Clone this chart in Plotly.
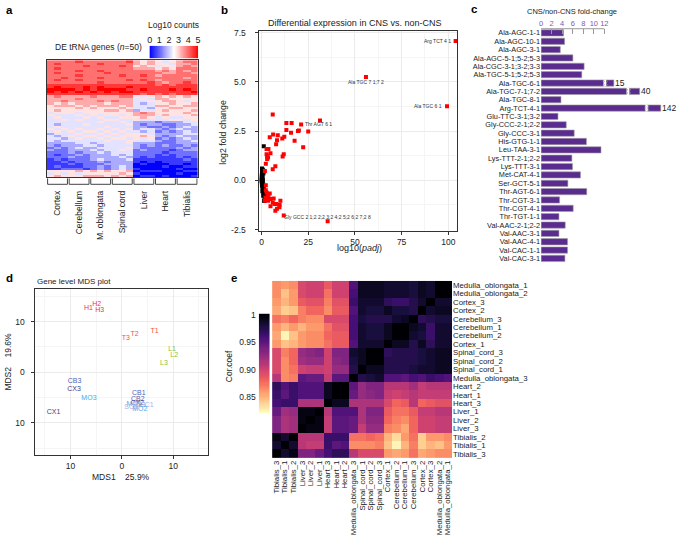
import numpy as np
import plotly.graph_objects as go
from plotly.colors import sequential

W, H = 677, 543
def X(px): return px / W
def Y(py): return 1 - py / H

FONT = "Liberation Sans, Arial, Helvetica, sans-serif"
TXT = "#222222"

# ---------------- panel a : DE tRNA heatmap (digit code 0-9 -> log10 counts 0-5)
tissues_a = ["Cortex", "Cerebellum", "M. oblongata", "Spinal cord", "Liver", "Heart", "Tibialis"]
heat_a_rows = [
    "777 787 777 778 656 545 677", "787 777 787 777 656 554 667", "777 778 777 787 565 455 676",
    "787 777 777 777 666 565 777", "777 787 787 777 777 676 767", "787 777 778 777 777 766 776",
    "777 787 777 787 787 677 777", "778 777 787 777 777 777 767", "787 787 777 778 787 677 777",
    "777 777 787 777 778 767 787", "888 888 888 888 888 787 888", "898 889 898 889 888 888 888",
    "999 989 899 998 898 889 898", "989 898 989 899 888 888 889", "888 888 888 888 878 787 888",
    "676 666 766 677 545 656 565", "666 676 666 666 454 665 555", "667 666 676 766 445 566 545",
    "656 566 665 666 434 556 556", "566 656 566 656 444 665 566", "555 565 655 565 443 556 655",
    "565 555 556 656 344 565 556", "455 545 555 555 676 555 565", "544 454 545 545 666 565 556",
    "454 445 454 455 565 454 455", "445 454 445 544 544 445 545", "444 444 454 454 333 233 344",
    "434 445 444 445 323 322 334", "454 444 445 444 332 232 343", "545 454 454 545 344 323 433",
    "454 545 545 454 434 232 343", "344 454 454 545 554 333 344", "434 545 545 455 565 323 433",
    "443 454 454 554 545 232 343", "434 444 445 445 444 322 334", "333 344 344 445 333 222 333",
    "323 334 434 444 323 232 232", "232 343 344 445 322 222 323", "322 333 434 454 232 221 233",
    "222 323 343 444 222 212 222", "212 232 333 434 222 121 222", "222 322 333 343 212 111 212",
    "121 222 343 334 111 111 121", "112 122 232 333 101 011 111", "111 212 223 333 010 001 101",
    "121 112 232 343 000 010 011", "112 221 232 343 100 000 100", "555 565 656 556 011 100 011",
    "454 545 555 565 100 000 100", "565 556 665 656 011 010 001",
]
heat_a = [[int(c) * 5 / 9 for c in r.replace(" ", "")] for r in heat_a_rows]
cb_a_ticks = [0, 1, 2, 3, 4, 5]

# ---------------- panel b : volcano-like scatter
ns_x = [0.6, 0.9, 0.3, 0.5, 0.2, 0.4, 0.1, 0.3, 0.05, 0.2, 0.0, 0.1, 0.0, 0.15, 0.3, 0.2, 0.5, 0.4,
        0.7, 0.6, 0.9, 0.8, 1.1, 1.0, 1.3, 1.2, 1.5, 0.9, 1.6, 1.4, 1.8, 1.2, 0.7, 0.5, 0.9, 1.2,
        0.35, 0.6, 1.0, 1.2, 0.45, 0.25]
ns_y = [0.55, 0.5, 0.45, 0.4, 0.35, 0.3, 0.25, 0.2, 0.15, 0.1, 0.05, 0.0, -0.05, -0.1, -0.15, -0.2,
        -0.25, -0.3, -0.35, -0.4, -0.45, -0.5, -0.55, -0.6, -0.65, -0.7, -0.75, -0.78, -0.85, -1.05,
        -1.0, 1.73, 0.0, -0.05, -0.2, -0.4, 0.05, 0.15, 0.35, 0.45, -0.55, 0.6]
de_x = [103.9, 55.9, 99.3, 6.0, 31.3, 21.2, 13.3, 16.1, 13.3, 20.0, 19.5, 25.0, 15.8, 12.2, 11.1,
        6.2, 8.7, 4.4, 8.3, 17.7, 7.8, 22.3, 2.7, 3.7, 4.8, 11.9, 11.3, 2.7, 3.0, 3.5, 3.0, 2.3,
        7.4, 6.0, 1.8, 2.3, 2.3, 2.7, 3.4, 4.4, 2.1, 3.7, 2.7, 4.8, 1.8, 3.5, 6.5, 6.0, 10.1, 9.7,
        4.8, 8.3, 7.4, 7.8, 6.9, 11.9, 35.4, 9.6]
de_y = [7.07, 5.24, 3.76, 3.34, 3.04, 2.84, 2.91, 2.91, 2.56, 2.53, 2.5, 2.48, 2.41, 2.21, 2.13,
        2.33, 2.29, 2.19, 2.04, 2.01, 1.83, 1.68, 1.59, 1.59, 1.38, 1.33, 1.21, 1.33, 1.23, 1.16,
        1.08, 0.84, 0.71, 0.56, 0.48, -0.25, -0.5, -0.62, -0.7, -0.67, -0.87, -0.87, -1.0, -0.95,
        -1.04, -1.04, -0.92, -1.12, -1.04, -1.24, -1.32, -1.44, -1.54, -1.2, -1.2, -1.78, -2.07,
        -1.37]
de_names = ["Arg TCT 4 1", "Ala TGC 7 1;7 2", "Ala TGC 6 1", "Thr AGT 6 1",
            "Gly GCC 2 1;2 2;2 3;2 4;2 5;2 6;2 7;2 8"]
de_name_idx = [0, 1, 2, 5, 56]

# ---------------- panel c : fold-change bars
genes_c = ["Ala-AGC-1-1", "Ala-AGC-10-1", "Ala-AGC-3-1", "Ala-AGC-5-1;5-2;5-3", "Ala-CGC-3-1;3-2;3-3",
           "Ala-TGC-5-1;5-2;5-3", "Ala-TGC-6-1", "Ala-TGC-7-1;7-2", "Ala-TGC-8-1", "Arg-TCT-4-1",
           "Glu-TTC-3-1;3-2", "Gly-CCC-2-1;2-2", "Gly-CCC-3-1", "His-GTG-1-1", "Leu-TAA-3-1",
           "Lys-TTT-2-1;2-2", "Lys-TTT-3-1", "Met-CAT-4-1", "Ser-GCT-5-1", "Thr-AGT-6-1",
           "Thr-CGT-3-1", "Thr-CGT-4-1", "Thr-TGT-1-1", "Val-AAC-2-1;2-2", "Val-AAC-3-1",
           "Val-AAC-4-1", "Val-CAC-1-1", "Val-CAC-3-1"]
fold_c = [4.27, 4.46, 3.64, 6.03, 8.16, 7.72, 15, 40, 3.77, 142, 3.2, 4.77, 6.28, 8.6, 11.36,
          5.84, 5.96, 7.47, 5.08, 8.66, 3.51, 6.09, 3.39, 4.58, 3.39, 5.02, 5.02, 4.52]
# broken bars: value -> (axis-break position, drawn length on the compressed axis)
broken_c = {15: (11.8, 13.8), 40: (16.2, 18.7), 142: (19.7, 22.7)}
ticks_c = [0, 2, 4, 6, 8, 10, 12]

# ---------------- panel d : MDS
mds_labels = ["H1", "H2", "H3", "T1", "T2", "T3", "L1", "L2", "L3", "CB3", "CX3", "MO3", "CX1",
              "CB1", "CB2", "CX2", "MO1", "SC3", "SC1", "SC2", "MO2"]
mds1 = [-6.5, -4.9, -4.3, 6.4, 2.5, 0.8, 9.8, 10.2, 8.2, -9.2, -9.3, -6.4, -13.3,
        3.3, 3.1, 3.0, 2.4, 3.3, 4.9, 1.8, 3.5]
mds2 = [12.7, 13.5, 12.3, 8.1, 7.6, 6.8, 4.5, 3.4, 1.75, -1.8, -3.45, -5.1, -7.9,
        -4.2, -5.3, -6.1, -6.4, -6.6, -6.5, -7.0, -7.3]
mds_colors = {"H": "#e0394f", "T": "#f2553a", "L": "#88c23e", "CB": "#5561b0",
              "CX": "#3c408e", "MO": "#52a6e6", "SC": "#aab4e6"}

# ---------------- panel e : correlation heatmap
rows_e = ["Medulla_oblongata_1", "Medulla_oblongata_2", "Cortex_3", "Cortex_2", "Cerebellum_3",
          "Cerebellum_1", "Cerebellum_2", "Cortex_1", "Spinal_cord_3", "Spinal_cord_2",
          "Spinal_cord_1", "Medulla_oblongata_3", "Heart_2", "Heart_1", "Heart_3", "Liver_1",
          "Liver_2", "Liver_3", "Tibialis_2", "Tibialis_1", "Tibialis_3"]
cols_e = ["Tibialis_3", "Tibialis_1", "Tibialis_2", "Liver_3", "Liver_2", "Liver_1", "Heart_3",
          "Heart_1", "Heart_2", "Medulla_oblongata_3", "Spinal_cord_1", "Spinal_cord_2",
          "Spinal_cord_3", "Cortex_1", "Cerebellum_2", "Cerebellum_1", "Cerebellum_3", "Cortex_2",
          "Cortex_3", "Medulla_oblongata_2", "Medulla_oblongata_1"]
cor_e = [
    [.865, .86, .865, .895, .90, .90, .885, .90, .90, .955, .99, .99, .99, .985, .985, .985, .98, .99, .985, 1, 1],
    [.865, .845, .86, .895, .90, .90, .875, .90, .90, .96, .99, .99, .99, .985, .985, .985, .98, .99, .985, 1, 1],
    [.86, .85, .86, .885, .89, .89, .87, .89, .89, .965, .985, .985, .985, .97, .965, .965, .975, .985, 1, .985, .985],
    [.855, .84, .845, .87, .88, .88, .865, .885, .885, .955, .985, .98, .98, .99, .98, .98, .975, 1, .985, .99, .99],
    [.875, .87, .88, .87, .865, .865, .895, .895, .895, .96, .98, .975, .975, .975, .985, .99, 1, .97, .975, .98, .98],
    [.86, .85, .86, .85, .86, .86, .875, .89, .89, .96, .985, .98, .98, .99, 1, 1, .99, .985, .965, .985, .985],
    [.855, .825, .845, .86, .865, .865, .88, .885, .885, .96, .985, .98, .98, .99, 1, 1, .985, .98, .965, .985, .985],
    [.86, .845, .85, .86, .865, .865, .875, .885, .885, .955, .985, .985, .985, 1, .99, .99, .975, .99, .97, .985, .985],
    [.895, .87, .88, .925, .93, .935, .90, .935, .935, .985, .99, 1, 1, .97, .975, .975, .975, .98, .985, .99, .99],
    [.895, .865, .88, .92, .925, .925, .90, .93, .935, .98, .99, 1, 1, .975, .975, .975, .975, .98, .985, .99, .99],
    [.895, .865, .875, .90, .905, .905, .90, .925, .925, .975, 1, .99, .99, .975, .975, .975, .98, .985, .985, .99, .99],
    [.91, .865, .87, .95, .945, .945, .905, .95, .95, 1, .975, .98, .985, .955, .955, .95, .96, .955, .965, .96, .955],
    [.97, .955, .965, .955, .955, .955, .99, 1, 1, .95, .925, .935, .935, .91, .91, .91, .92, .905, .91, .91, .91],
    [.965, .95, .965, .955, .955, .955, .99, 1, 1, .945, .925, .93, .935, .905, .90, .905, .91, .905, .905, .905, .905],
    [.96, .965, .965, .915, .915, .915, 1, .99, .99, .915, .915, .915, .915, .895, .88, .885, .91, .88, .885, .89, .89],
    [.945, .92, .925, .995, .995, 1, .91, .955, .955, .955, .915, .935, .935, .885, .875, .875, .885, .905, .905, .91, .91],
    [.935, .915, .92, .995, 1, .995, .905, .95, .95, .945, .915, .93, .93, .88, .87, .865, .88, .90, .90, .905, .905],
    [.935, .915, .92, 1, .995, .995, .905, .95, .95, .945, .905, .925, .925, .87, .865, .855, .88, .90, .90, .905, .905],
    [.995, .985, 1, .91, .91, .91, .965, .965, .965, .875, .875, .88, .875, .85, .835, .86, .875, .84, .86, .86, .865],
    [.985, 1, .985, .91, .905, .905, .965, .95, .955, .865, .865, .865, .87, .845, .825, .85, .87, .84, .85, .845, .86],
    [1, .985, .995, .935, .935, .945, .96, .97, .97, .91, .895, .895, .895, .86, .855, .86, .875, .855, .86, .865, .865],
]
cb_e_ticks = [0.85, 0.90, 0.95, 1.0]
cb_e_text = ["0.85", "0.90", "0.95", "1"]

bwr = [[0, "#0000ff"], [0.5, "#ffffff"], [1, "#ff0000"]]
mag = sequential.Magma[::-1]
magma_r = [[i / (len(mag) - 1), c] for i, c in enumerate(mag)]

fig = go.Figure()

# a
fig.add_trace(go.Heatmap(z=heat_a, x=list(range(21)), y=list(range(50)), colorscale=bwr,
                         zmin=0, zmax=5, showscale=False, xaxis="x", yaxis="y", hoverinfo="skip"))
grad_a = np.linspace(0, 5, 101)
fig.add_trace(go.Heatmap(z=[grad_a], x=grad_a, y=[0], colorscale=bwr, zmin=0, zmax=5,
                         showscale=False, xaxis="x2", yaxis="y2", hoverinfo="skip"))
# b
fig.add_trace(go.Scatter(x=ns_x, y=ns_y, mode="markers", xaxis="x3", yaxis="y3",
                         marker=dict(symbol="square", size=4, color="#000000", line=dict(width=0))))
fig.add_trace(go.Scatter(x=de_x, y=de_y, mode="markers", xaxis="x3", yaxis="y3",
                         marker=dict(symbol="square", size=4, color="#ff0000", line=dict(width=0))))
# c
drawn_c = [broken_c[v][1] if v in broken_c else v for v in fold_c]
fig.add_trace(go.Bar(x=drawn_c, y=list(range(len(genes_c))), orientation="h", xaxis="x4", yaxis="y4",
                     marker=dict(color="#5b2c8f", line=dict(color="#a0a0a0", width=0.6))))
bk_idx = [i for i, v in enumerate(fold_c) if v in broken_c]
# d
col_d = [mds_colors[l.rstrip("0123456789")] for l in mds_labels]
fig.add_trace(go.Scatter(x=mds1, y=mds2, mode="text", text=mds_labels, xaxis="x5", yaxis="y5",
                         textfont=dict(size=7, color=col_d, family=FONT)))
# e
fig.add_trace(go.Heatmap(z=cor_e, x=list(range(21)), y=list(range(21)), colorscale=magma_r,
                         zmin=0.822, zmax=1.0, showscale=False, xaxis="x6", yaxis="y6", hoverinfo="skip"))
grad_e = np.linspace(0.822, 1.002, 91)
fig.add_trace(go.Heatmap(z=[[v] for v in grad_e], x=[0], y=grad_e, colorscale=magma_r,
                         zmin=0.822, zmax=1.0, showscale=False, xaxis="x7", yaxis="y7", hoverinfo="skip"))

shapes = []
# a: group brackets
for k in range(7):
    x0, x1 = 3 * k - 0.5 + 0.12, 3 * k + 2.5 - 0.12
    shapes.append(dict(type="path", xref="x", yref="paper",
                       path=f"M {x0},{Y(177)} L {x0},{Y(183)} L {x1},{Y(183)} L {x1},{Y(177)}",
                       line=dict(color="#444", width=1)))
# c: axis line and breaks
shapes.append(dict(type="line", xref="x4", yref="y4 domain", x0=0, x1=12, y0=1, y1=1,
                   line=dict(color="#999", width=1)))
for i in bk_idx:
    b = broken_c[fold_c[i]][0]
    shapes.append(dict(type="rect", xref="x4", yref="y4", x0=b, x1=b + 0.55, y0=i - 0.42, y1=i + 0.42,
                       fillcolor="white", line=dict(width=0), layer="above"))
    for e in (b, b + 0.55):
        shapes.append(dict(type="path", xref="x4", yref="y4", layer="above",
                           path=f"M {e},{i-0.38} L {e+0.18},{i-0.19} L {e},{i} L {e+0.18},{i+0.19} L {e},{i+0.38}",
                           line=dict(color="#999", width=0.8)))

ann = []
def A(text, px, py, size=8.5, xanchor="center", angle=0, bold=False, color=TXT, **kw):
    ann.append(dict(text=f"<b>{text}</b>" if bold else text, x=X(px), y=Y(py), xref="paper", yref="paper",
                    showarrow=False, xanchor=xanchor, yanchor="middle", textangle=angle,
                    font=dict(size=size, color=color, family=FONT), **kw))

for t, px, py in [("a", 2, 6), ("b", 218, 6), ("c", 470, 5), ("d", 2, 278), ("e", 228, 278)]:
    A(t, px, py, size=11.5, xanchor="left", bold=True, color="#000")
A("Log10 counts", 172.8, 21.7, size=8.5)
A("DE tRNA genes (<i>n</i>=50)", 97.5, 44, size=8.5)
A("Differential expression in CNS vs. non-CNS", 355, 19, size=9)
A("log10(<i>padj</i>)", 360, 248, size=9)
A("log2 fold change", 222, 130, size=8.8, angle=-90)
A("CNS/non-CNS fold-change", 573.5, 7.5, size=7.5)
A("Gene level MDS plot", 33, 281.5, size=8, xanchor="left")
A("MDS1\u00a0\u00a0\u00a0\u00a025.9%", 120, 480, size=8.5)
A("MDS2\u00a0\u00a0\u00a0\u00a019.6%", 6, 363, size=8.5, angle=-90)
A("Cor.coef", 228, 368, size=8.5, angle=-90)
# b point labels
offs = [dict(xanchor="right", xshift=-3), dict(xanchor="center", yshift=-5),
        dict(xanchor="right", xshift=-3), dict(xanchor="left", xshift=2), dict(xanchor="center", yshift=4)]
for name, i, o in zip(de_names, de_name_idx, offs):
    ann.append(dict(text=name, x=de_x[i], y=de_y[i], xref="x3", yref="y3", showarrow=False,
                    yanchor="middle", font=dict(size=5, color="#333", family=FONT), **o))
# c broken-bar values
for i in bk_idx:
    ann.append(dict(text=str(fold_c[i]), x=drawn_c[i], y=i, xref="x4", yref="y4", showarrow=False,
                    xanchor="left", yanchor="middle", xshift=0, borderpad=0,
                    font=dict(size=8.5, color=TXT, family=FONT)))

grid = "#ebebeb"
minor_grid = "#f5f5f5"
box = dict(showline=True, mirror=True, linecolor="#333", linewidth=1)
tickf = dict(size=8.5, color=TXT, family=FONT)

fig.update_layout(
    width=W, height=H, margin=dict(l=0, r=0, t=0, b=0),
    paper_bgcolor="white", plot_bgcolor="white", showlegend=False,
    font=dict(family=FONT, color=TXT), bargap=0.25,
    shapes=shapes, annotations=ann,
    xaxis=dict(domain=[X(45), X(197)], range=[-0.5, 20.5], anchor="y", tickvals=[1, 4, 7, 10, 13, 16, 19],
               ticktext=tissues_a, tickangle=-90, ticks="outside", ticklen=9, tickcolor="rgba(0,0,0,0)",
               tickfont=tickf, showgrid=False, zeroline=False, **box),
    yaxis=dict(domain=[Y(176), Y(57)], range=[49.5, -0.5], anchor="x", showticklabels=False, ticks="",
               showgrid=False, zeroline=False, **box),
    xaxis2=dict(domain=[X(148.3), X(197.3)], range=[-0.025, 5.025], anchor="y2", side="top",
                tickvals=cb_a_ticks, ticks="", tickfont=dict(size=9, color=TXT, family=FONT),
                showgrid=False, zeroline=False),
    yaxis2=dict(domain=[Y(55), Y(42.3)], anchor="x2", visible=False),
    xaxis3=dict(domain=[X(259), X(458)], range=[-1.1, 104.8], anchor="y3", tickvals=[0, 25, 50, 75, 100],
                minor=dict(tickvals=[12.5, 37.5, 62.5, 87.5], showgrid=True, gridcolor=minor_grid, ticks=""),
                ticks="outside", ticklen=3, tickcolor="#333", tickfont=tickf, gridcolor=grid,
                zeroline=False, **box),
    yaxis3=dict(domain=[Y(230), Y(27)], range=[-2.55, 7.6], anchor="x3", tickvals=[-2.5, 0, 2.5, 5, 7.5],
                ticktext=["-2.5", "0.0", "2.5", "5.0", "7.5"],
                minor=dict(tickvals=[-1.25, 1.25, 3.75, 6.25], showgrid=True, gridcolor=minor_grid, ticks=""),
                ticks="outside", ticklen=3, tickcolor="#333", tickfont=tickf, gridcolor=grid,
                ticklabelstandoff=8, zeroline=False, **box),
    xaxis4=dict(domain=[X(542.3), X(677)], range=[0, 25.4], anchor="y4", side="top", tickvals=ticks_c,
                ticks="inside", ticklen=5, tickcolor="#999", tickfont=dict(size=7.5, color="#7f56b8", family=FONT),
                showgrid=False, zeroline=False, showline=False),
    yaxis4=dict(domain=[Y(262.5), Y(25.1)], range=[27.5, -0.5], anchor="x4", tickvals=list(range(len(genes_c))),
                ticktext=genes_c, ticks="", tickfont=dict(size=7.3, color=TXT, family=FONT),
                showgrid=False, zeroline=False, showline=False),
    xaxis5=dict(domain=[X(32.7), X(207.3)], range=[-17, 16.8], anchor="y5", tickvals=[-10, 0, 10],
                ticktext=["10", "0", "10"],
                minor=dict(tickvals=[-15, -5, 5, 15], showgrid=True, gridcolor=minor_grid, ticks=""),
                ticks="outside", ticklen=3, tickcolor="#333", tickfont=tickf, gridcolor=grid,
                zeroline=False, **box),
    yaxis5=dict(domain=[Y(458), Y(289)], range=[-16.4, 16.5], anchor="x5", tickvals=[-10, 0, 10],
                ticktext=["10", "0", "10"],
                minor=dict(tickvals=[-15, -5, 5, 15], showgrid=True, gridcolor=minor_grid, ticks=""),
                ticks="outside", ticklen=3, tickcolor="#333", tickfont=tickf, gridcolor=grid,
                ticklabelstandoff=4, zeroline=False, **box),
    xaxis6=dict(domain=[X(271.7), X(452.7)], range=[-0.5, 20.5], anchor="y6", tickvals=list(range(21)),
                ticktext=cols_e, tickangle=-90, ticks="", tickfont=dict(size=7.8, color=TXT, family=FONT),
                showgrid=False, zeroline=False),
    yaxis6=dict(domain=[Y(461), Y(281)], range=[20.5, -0.5], anchor="x6", side="right",
                tickvals=list(range(21)), ticktext=rows_e, ticks="",
                tickfont=dict(size=7.8, color=TXT, family=FONT), showgrid=False, zeroline=False),
    xaxis7=dict(domain=[X(258.3), X(269.3)], range=[-0.5, 0.5], anchor="y7", visible=False),
    yaxis7=dict(domain=[Y(415), Y(314.3)], range=[0.822, 1.002], anchor="x7", side="left",
                tickvals=cb_e_ticks, ticktext=cb_e_text, ticks="", tickfont=tickf,
                showgrid=False, zeroline=False, ticklabelstandoff=2),
)

fig.write_html("out.html", config={"displayModeBar": False, "staticPlot": True},
               post_script="document.body.style.margin='0';document.body.style.padding='0';document.body.style.overflow='hidden';")
